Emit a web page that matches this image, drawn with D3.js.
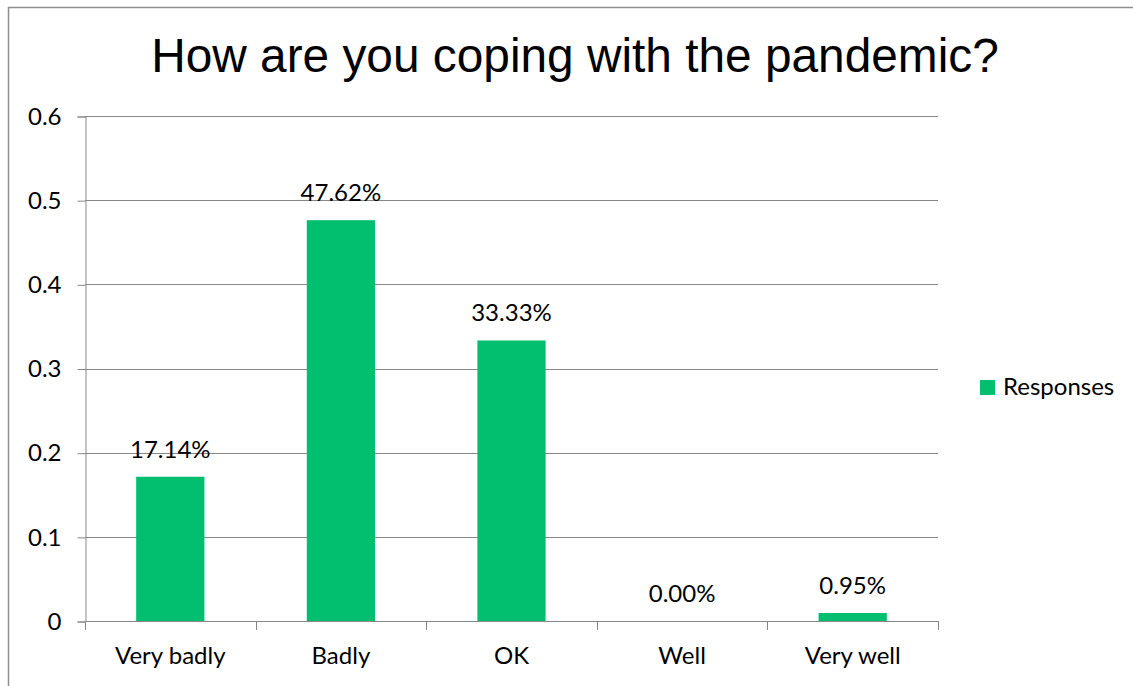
<!DOCTYPE html>
<html>
<head>
<meta charset="utf-8">
<script src="https://cdn.jsdelivr.net/npm/d3@7"></script>
<style>
  html, body { margin: 0; padding: 0; background: #fff; }
  svg { display: block; }
</style>
</head>
<body>
<svg id="chart" width="1133" height="686"></svg>
<script>
// Survey responses: share of respondents per answer
const categories = ["Very badly", "Badly", "OK", "Well", "Very well"];
const responses = [0.1714, 0.4762, 0.3333, 0.0, 0.0095];
const yTicks = [0, 0.1, 0.2, 0.3, 0.4, 0.5, 0.6];
const seriesName = "Responses";
const titleText = "How are you coping with the pandemic?";

const W = 1133, H = 686;
const plot = { left: 85, right: 938, top: 116, bottom: 621 };
const barColor = "#02bf6f";
const gridColor = "#878787";
const labelFont = "Lato, 'Open Sans', sans-serif";
const labelSize = 24;

const svg = d3.select("#chart");

// Chart frame
svg.append("rect")
  .attr("x", 8.5).attr("y", 7.5)
  .attr("width", W + 10).attr("height", H + 10)
  .attr("fill", "#fff").attr("stroke", "#8e8e8e").attr("stroke-width", 1.5);

// Title
svg.append("text")
  .attr("x", 575).attr("y", 72)
  .attr("text-anchor", "middle")
  .attr("font-family", "'Liberation Sans', Arial, sans-serif")
  .attr("font-size", 47.8)
  .attr("fill", "#000")
  .text(titleText);

const x = d3.scaleBand()
  .domain(categories)
  .range([plot.left, plot.right])
  .paddingInner(0.6)
  .paddingOuter(0.3);

const y = d3.scaleLinear()
  .domain([0, 0.6])
  .range([plot.bottom, plot.top]);

// Horizontal gridlines
svg.append("g")
  .selectAll("line")
  .data(yTicks.filter(d => d > 0))
  .join("line")
  .attr("x1", plot.left).attr("x2", plot.right)
  .attr("y1", d => Math.round(y(d)) + 0.5)
  .attr("y2", d => Math.round(y(d)) + 0.5)
  .attr("stroke", gridColor).attr("stroke-width", 1);

// Y axis
const yAxis = svg.append("g")
  .attr("transform", `translate(${plot.left + 0.5},0.5)`)
  .call(d3.axisLeft(y).tickValues(yTicks).tickFormat(d3.format("")).tickSize(8).tickPadding(16));
yAxis.select(".domain").attr("stroke", gridColor);
yAxis.selectAll(".tick line").attr("stroke", gridColor);
yAxis.selectAll(".tick text")
  .attr("font-family", labelFont).attr("font-size", labelSize).attr("fill", "#000");

// Bars
svg.append("g")
  .selectAll("rect")
  .data(categories.map((c, i) => ({ c, v: responses[i] })))
  .join("rect")
  .attr("x", d => x(d.c))
  .attr("width", x.bandwidth())
  .attr("y", d => y(d.v))
  .attr("height", d => y(0) - y(d.v))
  .attr("fill", barColor);

// X axis baseline with category boundary ticks
const xAxis = svg.append("g");
xAxis.append("line")
  .attr("x1", plot.left).attr("x2", plot.right)
  .attr("y1", y(0) + 0.5).attr("y2", y(0) + 0.5)
  .attr("stroke", gridColor);
const step = x.step();
const boundaries = d3.range(categories.length + 1).map(i => plot.left + i * step);
xAxis.selectAll("line.tick")
  .data(boundaries)
  .join("line")
  .attr("class", "tick")
  .attr("x1", d => Math.round(d) + 0.5).attr("x2", d => Math.round(d) + 0.5)
  .attr("y1", y(0)).attr("y2", y(0) + 9)
  .attr("stroke", gridColor);
xAxis.selectAll("text")
  .data(categories)
  .join("text")
  .attr("x", d => x(d) + x.bandwidth() / 2)
  .attr("y", 664)
  .attr("text-anchor", "middle")
  .attr("font-family", labelFont).attr("font-size", labelSize).attr("fill", "#000")
  .text(d => d);

// Value labels
svg.append("g")
  .selectAll("text")
  .data(categories.map((c, i) => ({ c, v: responses[i] })))
  .join("text")
  .attr("x", d => x(d.c) + x.bandwidth() / 2)
  .attr("y", d => y(d.v) - 19)
  .attr("text-anchor", "middle")
  .attr("font-family", labelFont).attr("font-size", labelSize).attr("fill", "#000")
  .text(d => d3.format(".2%")(d.v));

// Legend
const legend = svg.append("g");
legend.append("rect")
  .attr("x", 980).attr("y", 380).attr("width", 15).attr("height", 15)
  .attr("fill", barColor);
legend.append("text")
  .attr("x", 1003).attr("y", 395)
  .attr("font-family", labelFont).attr("font-size", labelSize).attr("fill", "#000")
  .text(seriesName);
</script>
</body>
</html>
